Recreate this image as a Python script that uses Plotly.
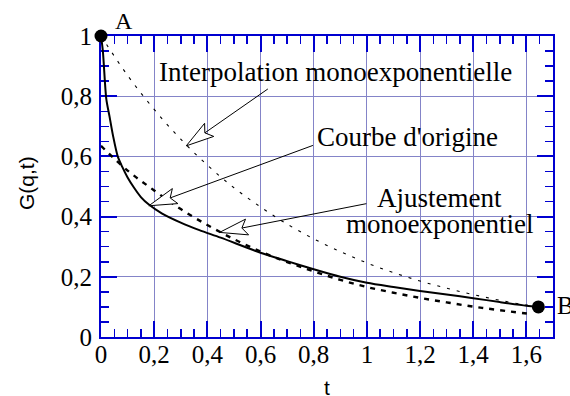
import math
import plotly.graph_objects as go

# ---- data ----
t_orig = [0, 0.007, 0.02, 0.032, 0.045, 0.063, 0.08, 0.1, 0.125, 0.15, 0.18, 0.23, 0.3, 0.37,
          0.45, 0.6, 0.7, 0.8, 0.9, 1.0, 1.1, 1.2, 1.3, 1.4, 1.5, 1.6, 1.645]
g_orig = [1.0, 0.95, 0.79, 0.733, 0.67, 0.60, 0.565, 0.53, 0.495, 0.465, 0.44, 0.41, 0.38, 0.355,
          0.33, 0.28, 0.252, 0.225, 0.2, 0.18, 0.166, 0.153, 0.141, 0.129, 0.116, 0.104, 0.1]

t_fit = [0, 0.1, 0.2, 0.3, 0.4, 0.5, 0.6, 0.7, 0.8, 0.9, 1.0, 1.1, 1.2, 1.3, 1.4, 1.5, 1.62]
g_fit = [0.635, 0.553, 0.487, 0.425, 0.372, 0.325, 0.284, 0.249, 0.218, 0.190, 0.166, 0.147, 0.130,
         0.115, 0.101, 0.089, 0.076]

t_interp = [0, 0.1, 0.2, 0.3, 0.4, 0.5, 0.6, 0.7, 0.8, 0.9, 1.0, 1.1, 1.2, 1.3, 1.4, 1.5, 1.6, 1.645]
g_interp = [1.0, 0.869, 0.756, 0.657, 0.571, 0.496, 0.432, 0.375, 0.326, 0.284, 0.246, 0.214,
            0.186, 0.162, 0.141, 0.122, 0.106, 0.1]

pts_t = [0, 1.645]
pts_g = [1.0, 0.1]
pts_lbl = ["A", "B"]

x_range = [0, 1.7]
y_range = [0, 1]
x_title = "t"
y_title = "G(q,t)"

# ---- layout constants ----
W, H = 570, 396
ML, MR, MT, MB = 101, 17, 36, 59
PW, PH = W - ML - MR, H - MT - MB
SX = PW / (x_range[1] - x_range[0])
SY = PH / (y_range[1] - y_range[0])

AXC = "#0000d0"
GRIDC = "#8484c8"
SERIF = "Liberation Serif, Times New Roman, serif"
SANS = "Liberation Sans, Arial, sans-serif"

fig = go.Figure()
fig.add_trace(go.Scatter(x=t_interp, y=g_interp, mode="lines",
                         line=dict(color="black", width=1.1, dash="3px,7px", shape="spline"), showlegend=False))
fig.add_trace(go.Scatter(x=t_fit, y=g_fit, mode="lines",
                         line=dict(color="black", width=2.4, dash="5px,6px", shape="spline"), showlegend=False))
fig.add_trace(go.Scatter(x=t_orig, y=g_orig, mode="lines",
                         line=dict(color="black", width=2, shape="spline", smoothing=0.8), showlegend=False))
fig.add_trace(go.Scatter(x=pts_t, y=pts_g, mode="markers", marker=dict(color="black", size=13),
                         cliponaxis=False, showlegend=False))

annotations = []
# point labels
annotations.append(dict(x=pts_t[0], y=pts_g[0], text=pts_lbl[0], showarrow=False, xshift=23, yshift=15,
                        font=dict(family=SERIF, size=24, color="black")))
annotations.append(dict(x=pts_t[1], y=pts_g[1], text=pts_lbl[1], showarrow=False, xshift=17, yshift=1,
                        xanchor="left", font=dict(family=SERIF, size=25, color="black")))

texts = [
    ("Interpolation monoexponentielle", 0.882, 0.882),
    ("Courbe d'origine", 1.153, 0.665),
    ("Ajustement", 1.274, 0.461),
    ("monoexponentiel", 1.274, 0.375),
]
for txt, x, y in texts:
    annotations.append(dict(x=x, y=y, text=txt, showarrow=False, xanchor="center", yanchor="middle",
                            font=dict(family=SERIF, size=27, color="black")))

# axis titles (placed by page pixels)
annotations.append(dict(xref="paper", yref="paper", x=(327 - ML) / PW, y=-(387 - (H - MB)) / PH,
                        text=x_title, showarrow=False, xanchor="center", yanchor="middle",
                        font=dict(family=SANS, size=21, color="black")))
annotations.append(dict(xref="paper", yref="paper", x=-(ML - 26) / PW, y=((H - MB) - 183) / PH,
                        text=y_title, textangle=-90, showarrow=False, xanchor="center", yanchor="middle",
                        font=dict(family=SANS, size=21, color="black")))

# arrows: (tail, tip) in data coordinates
arrows = [
    ((0.6275, 0.824), (0.3205, 0.635)),
    ((0.797, 0.6365), (0.180, 0.436)),
    ((0.998, 0.443), (0.446, 0.3475)),
]
shapes = []
HEAD_L, HEAD_W, NOTCH = 28, 8, 22.7
for (tx, ty), (px, py) in arrows:
    dxp = (tx - px) * SX
    dyp = -(ty - py) * SY
    ln = math.hypot(dxp, dyp)
    ux, uy = dxp / ln, dyp / ln
    nx, ny = -uy, ux

    def to_data(ox, oy):
        return px + ox / SX, py - oy / SY

    b1 = to_data(ux * HEAD_L + nx * HEAD_W, uy * HEAD_L + ny * HEAD_W)
    b2 = to_data(ux * HEAD_L - nx * HEAD_W, uy * HEAD_L - ny * HEAD_W)
    nt = to_data(ux * NOTCH, uy * NOTCH)
    shapes.append(dict(type="line", xref="x", yref="y", x0=tx, y0=ty, x1=nt[0], y1=nt[1],
                       line=dict(color="black", width=1), layer="above"))
    path = f"M{px},{py} L{b1[0]},{b1[1]} L{nt[0]},{nt[1]} L{b2[0]},{b2[1]} Z"
    shapes.append(dict(type="path", xref="x", yref="y", path=path, fillcolor="white",
                       line=dict(color="black", width=1), layer="above"))

axis_common = dict(
    showline=True, linecolor=AXC, linewidth=2, mirror="ticks",
    ticks="inside", ticklen=16, tickwidth=2, tickcolor=AXC,
    showgrid=True, gridcolor=GRIDC, gridwidth=1, zeroline=False,
    tickfont=dict(family=SERIF, size=25, color="black"),
    layer="below traces", dtick=0.2, tick0=0, automargin=False,
    minor=dict(dtick=0.05, tick0=0, ticks="inside", ticklen=8, tickwidth=1.5, tickcolor=AXC, showgrid=False),
)

fig.update_layout(
    width=W, height=H, margin=dict(l=ML, r=MR, t=MT, b=MB, autoexpand=False),
    paper_bgcolor="white", plot_bgcolor="white",
    separators=", ",
    hovermode=False,
    xaxis=dict(range=x_range, ticklabelstandoff=-6, **axis_common),
    yaxis=dict(range=y_range, ticklabelstandoff=2, **axis_common),
    annotations=annotations, shapes=shapes,
)

fig.write_html("out.html", config={"displayModeBar": False, "staticPlot": True},
               post_script="document.body.style.margin='0';document.documentElement.style.overflow='hidden';")
